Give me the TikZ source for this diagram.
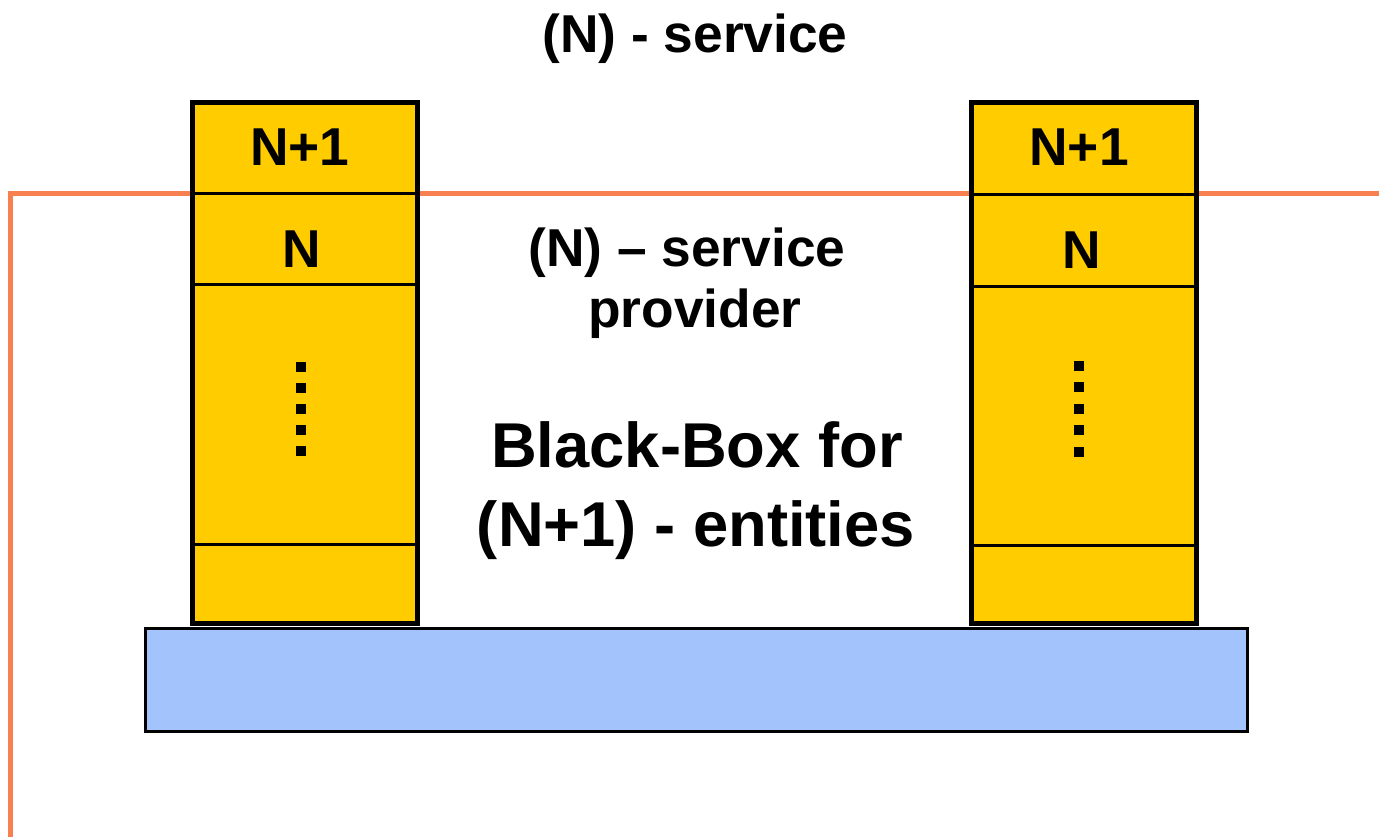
\documentclass[tikz,border=0pt]{standalone}
\usepackage{fontspec}
\setmainfont{Liberation Sans}
\usepackage{tikz}

\definecolor{layeryellow}{RGB}{255,204,0}
\definecolor{mediumblue}{RGB}{162,195,252}
\definecolor{serviceline}{RGB}{248,128,80}

\tikzset{
    lbl/.style={anchor=base, inner sep=0pt, font=\fontsize{40}{48}\selectfont\bfseries},
    biglbl/.style={anchor=base, inner sep=0pt, font=\fontsize{47.5}{57}\selectfont\bfseries},
    stackbox/.style={draw=black, fill=layeryellow, line width=3.75pt},
    divider/.style={black, line width=2.25pt}
}

\begin{document}
\begin{tikzpicture}[x=0.75pt, y=-0.75pt]
    \useasboundingbox (0, 0) rectangle (1379, 837);
    % service boundary
    \draw[serviceline, line width=3.75pt] (10.5, 837) -- (10.5, 194) -- (1379, 194);
    % transmission medium
    \filldraw[fill=mediumblue, draw=black, line width=2pt] (145.5, 628.5) rectangle (1247.5, 731.5);
    % left station
    \filldraw[stackbox] (192.5, 102.5) rectangle (417.5, 623.5);
    \draw[divider] (192.5, 194) -- (417.5, 194);
    \draw[divider] (192.5, 285) -- (417.5, 285);
    \draw[divider] (192.5, 545) -- (417.5, 545);
    \foreach \y in {367, 388, 409, 430, 451}
        \fill[black] (295.5, \y-5) rectangle (305.5, \y+5);
    % right station
    \filldraw[stackbox] (971.5, 102.5) rectangle (1196.5, 623.5);
    \draw[divider] (971.5, 195) -- (1196.5, 195);
    \draw[divider] (971.5, 287) -- (1196.5, 287);
    \draw[divider] (971.5, 546) -- (1196.5, 546);
    \foreach \y in {366, 387, 409, 430, 452}
        \fill[black] (1074, \y-5) rectangle (1084, \y+5);
    % labels
    \node[lbl] (lnp) at (300, 166) {N+1};
    \node[lbl] (ln) at (302, 268) {N};
    \node[lbl] (rnp) at (1079, 166) {N+1};
    \node[lbl] (rn) at (1082, 269) {N};
    \node[lbl] (svc) at (695, 53) {(N) - service};
    \node[lbl] (prov1) at (687, 267) {(N) -- service};
    \node[lbl] (prov2) at (695, 328) {provider};
    \node[biglbl] (bb1) at (697, 468) {Black-Box for};
    \node[biglbl] (bb2) at (696, 547) {(N+1) - entities};
\end{tikzpicture}
\end{document}
